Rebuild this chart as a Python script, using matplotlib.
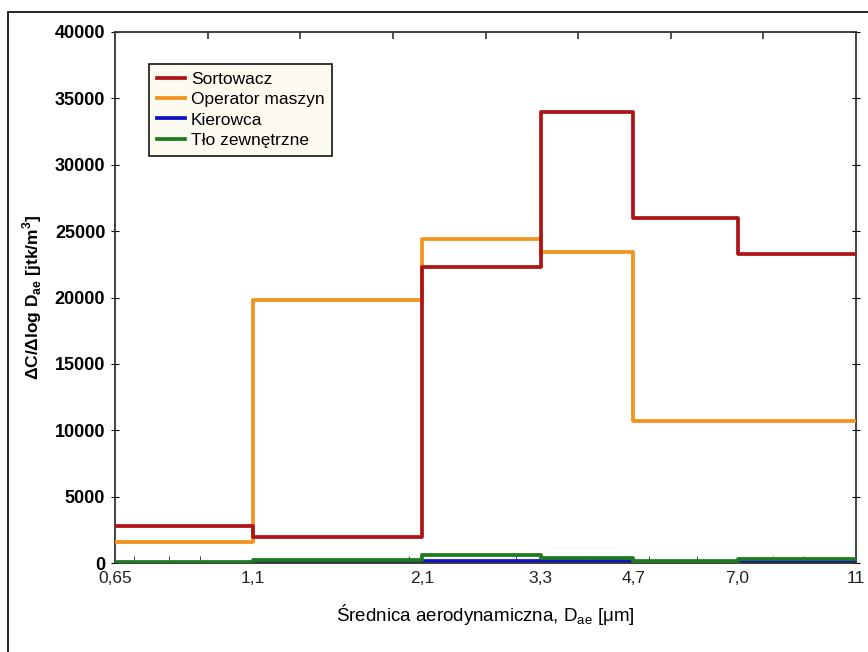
import matplotlib
matplotlib.use("Agg")
import matplotlib.pyplot as plt
from matplotlib.patches import Rectangle
from matplotlib.ticker import FixedLocator, NullFormatter, LogLocator
import numpy as np

# bin edges (aerodynamic diameter, um) and tick labels
edges = [0.65, 1.1, 2.1, 3.3, 4.7, 7.0, 11]
edge_labels = ["0,65", "1,1", "2,1", "3,3", "4,7", "7,0", "11"]

# concentration per bin
sortowacz = [2750, 1950, 22300, 34000, 26000, 23300]
operator = [1550, 19800, 24400, 23400, 10700, 10700]
kierowca = [20, 40, 130, 120, 30, 60]
tlo = [80, 250, 580, 400, 120, 280]

series_names = ["Sortowacz", "Operator maszyn", "Kierowca", "Tło zewnętrzne"]
colors = ["#AE1416", "#F2931F", "#1010C8", "#1E7B1E"]

plt.rcParams["font.family"] = ["Liberation Sans", "DejaVu Sans"]

fig = plt.figure(figsize=(8.68, 6.52), dpi=100)
ax = fig.add_axes([115 / 868, 1 - 563 / 652, (856 - 115) / 868, (563 - 32) / 652])

zorders = [4, 3, 2, 5]
for vals, name, c, z in zip([sortowacz, operator, kierowca, tlo], series_names, colors, zorders):
    ax.step(edges, vals + [vals[-1]], where="post", color=c, lw=2.7, label=name, zorder=z)

ax.set_xscale("log")
ax.set_xlim(edges[0], edges[-1])
ax.set_ylim(0, 40000)
ax.xaxis.set_major_locator(FixedLocator(edges))
ax.set_xticklabels(edge_labels, fontsize=12.5)
ax.xaxis.set_minor_locator(LogLocator(base=10, subs=np.arange(2, 10) * 0.1 * 10))
ax.xaxis.set_minor_formatter(NullFormatter())
ax.set_yticks(np.arange(0, 40001, 5000))
for lbl in ax.get_yticklabels():
    lbl.set_fontweight("bold")
    lbl.set_fontsize(13)

ax.tick_params(axis="x", which="both", direction="in", top=False, pad=6, colors="#222222")
ax.tick_params(axis="x", which="major", length=0)
ax.tick_params(axis="x", which="minor", length=5)
ax.tick_params(axis="y", direction="inout", length=6, right=True, pad=4)

for s in ax.spines.values():
    s.set_color("#333333")
    s.set_linewidth(1.3)

# linear ticks along the top edge
ax2 = ax.twiny()
ax2.set_xlim(0, 8)
ax2.set_xticks(range(1, 8))
ax2.set_xticklabels([])
ax2.tick_params(axis="x", direction="in", length=5, width=1.2, colors="#333333")
ax2.spines[:].set_visible(False)

ax.set_xlabel(r"Średnica aerodynamiczna, D$_{\mathregular{ae}}$ [μm]",
              fontsize=13.5, labelpad=11)
ax.set_ylabel(r"ΔC/Δlog D$_{\mathregular{ae}}$ [jtk/m$^{\mathregular{3}}$]",
              fontsize=12.5, fontweight="bold", labelpad=8)

leg = ax.legend(loc="upper left", bbox_to_anchor=(0.046, 0.94), frameon=True,
                fancybox=False, edgecolor="black", facecolor="#FDFBF0", framealpha=1,
                fontsize=12.5, handlelength=1.6, handletextpad=0.35, labelspacing=0.3,
                borderpad=0.45, borderaxespad=0)
leg.get_frame().set_linewidth(1.1)

# outer border of the picture (cut at right and bottom)
fig.patches.append(Rectangle((8 / 868, -0.1), 1.2, 1 - 11.5 / 652 + 0.1,
                             transform=fig.transFigure, fill=False, ec="black", lw=1.2))

fig.savefig("out.png", dpi=100)
